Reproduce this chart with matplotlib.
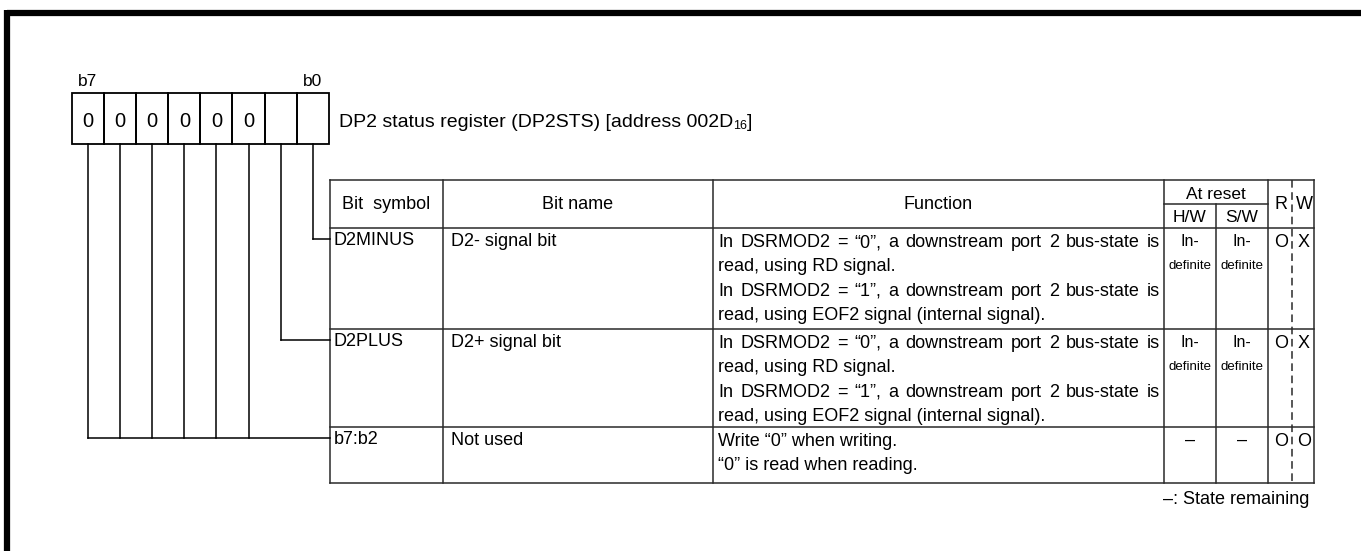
import matplotlib
matplotlib.use("Agg")
import matplotlib.pyplot as plt

plt.rcParams['font.family'] = ['Liberation Sans', 'DejaVu Sans']

# ---- data ----
reg_title = "DP2 status register (DP2STS) [address 002D"
reg_title_sub = "16"
reg_bits = ["0", "0", "0", "0", "0", "0", "", ""]   # b7 .. b0
bit_labels = ["b7", "b0"]

headers = ["Bit  symbol", "Bit name", "Function", "At reset", "H/W", "S/W", "R", "W"]
symbols = ["D2MINUS", "D2PLUS", "b7:b2"]
bit_names = ["D2- signal bit", "D2+ signal bit", "Not used"]
functions = [
    ["In DSRMOD2 = “0”, a downstream port 2 bus-state is", "read, using RD signal.",
     "In DSRMOD2 = “1”, a downstream port 2 bus-state is", "read, using EOF2 signal (internal signal)."],
    ["In DSRMOD2 = “0”, a downstream port 2 bus-state is", "read, using RD signal.",
     "In DSRMOD2 = “1”, a downstream port 2 bus-state is", "read, using EOF2 signal (internal signal)."],
    ["Write “0” when writing.", "“0” is read when reading."],
]
justified = [[True, False, True, False], [True, False, True, False], [False, False]]
hw_reset = [["In-", "definite"], ["In-", "definite"], ["–"]]
sw_reset = [["In-", "definite"], ["In-", "definite"], ["–"]]
read_attr = ["O", "O", "O"]
write_attr = ["X", "X", "O"]
footnote = "–: State remaining"

# bit positions (0 = b0) each row connects to
row_bits = [[0], [1], [2, 3, 4, 5, 6, 7]]

# ---- layout (pixels) ----
W, H = 1361, 551
fig = plt.figure(figsize=(W / 100, H / 100), dpi=100)
ax = fig.add_axes([0, 0, 1, 1])
ax.set_xlim(0, W)
ax.set_ylim(H, 0)
ax.axis('off')
renderer = fig.canvas.get_renderer()

FS = 13
LC = '#2a2a2a'
LW = 1.1

# outer thick frame (top and left only)
ax.plot([7.5, W], [12.5, 12.5], color='black', lw=4.5, solid_capstyle='butt')
ax.plot([7.5, 7.5], [10, H], color='black', lw=4.5, solid_capstyle='butt')

# register boxes
rx0, rcw, ry0, ry1 = 72, 32.1, 93, 144
for i, v in enumerate(reg_bits):
    x = rx0 + i * rcw
    ax.add_patch(plt.Rectangle((x, ry0), rcw, ry1 - ry0, fill=False, ec='black', lw=1.3))
    if v:
        ax.text(x + rcw / 2, 127, v, ha='center', va='baseline', fontsize=14.5)
ax.text(rx0 + rcw / 2 - 1, 86, bit_labels[0], ha='center', va='baseline', fontsize=12.5)
ax.text(rx0 + 7.5 * rcw, 86, bit_labels[1], ha='center', va='baseline', fontsize=12.5)

t = ax.text(339, 127, reg_title, ha='left', va='baseline', fontsize=14)
bb = t.get_window_extent(renderer)
t2 = ax.text(bb.x1, 129, reg_title_sub, ha='left', va='baseline', fontsize=9)
bb2 = t2.get_window_extent(renderer)
ax.text(bb2.x1, 127, "]", ha='left', va='baseline', fontsize=14)

# table geometry
cols = [330, 443, 713, 1164, 1216, 1268, 1292, 1314]
top, sub, hdr = 180, 204, 228
row_edges = [228, 329, 427, 483]
line_h = 24.3

# table lines
for y in [top] + row_edges:
    ax.plot([cols[0], cols[-1]], [y, y], color=LC, lw=LW)
ax.plot([cols[3], cols[5]], [sub, sub], color=LC, lw=LW)
for x in [cols[0], cols[1], cols[2], cols[3], cols[5], cols[7]]:
    ax.plot([x, x], [top, row_edges[-1]], color=LC, lw=LW)
ax.plot([cols[4], cols[4]], [sub, row_edges[-1]], color=LC, lw=LW)
ax.plot([cols[6], cols[6]], [top, row_edges[-1]], color=LC, lw=LW, ls=(0, (5, 3)))

# headers
ax.text((cols[0] + cols[1]) / 2, 209, headers[0], ha='center', va='baseline', fontsize=FS)
ax.text((cols[1] + cols[2]) / 2, 209, headers[1], ha='center', va='baseline', fontsize=FS)
ax.text((cols[2] + cols[3]) / 2, 209, headers[2], ha='center', va='baseline', fontsize=FS)
ax.text((cols[3] + cols[5]) / 2, 199, headers[3], ha='center', va='baseline', fontsize=12.5)
ax.text((cols[3] + cols[4]) / 2, 222, headers[4], ha='center', va='baseline', fontsize=12.5)
ax.text((cols[4] + cols[5]) / 2, 222, headers[5], ha='center', va='baseline', fontsize=12.5)
ax.text((cols[5] + cols[6]) / 2 + 1, 209, headers[6], ha='center', va='baseline', fontsize=FS)
ax.text((cols[6] + cols[7]) / 2 + 1, 209, headers[7], ha='center', va='baseline', fontsize=FS)


def justify(line, x0, x1, y):
    words = line.split(' ')
    widths = []
    for w in words:
        tt = ax.text(0, y, w, fontsize=FS)
        widths.append(tt.get_window_extent(renderer).width)
        tt.remove()
    gap = (x1 - x0 - sum(widths)) / (len(words) - 1)
    x = x0
    for w, wd in zip(words, widths):
        ax.text(x, y, w, ha='left', va='baseline', fontsize=FS)
        x += wd + gap


# rows
for r in range(len(symbols)):
    y0 = row_edges[r]
    base = y0 + 19
    ax.text(cols[0] + 4, base - 2, symbols[r], ha='left', va='baseline', fontsize=FS)
    ax.text(cols[1] + 8, base - 1, bit_names[r], ha='left', va='baseline', fontsize=FS)
    for k, line in enumerate(functions[r]):
        yy = base + k * line_h
        if justified[r][k]:
            justify(line, cols[2] + 5, cols[3] - 4, yy)
        else:
            ax.text(cols[2] + 5, yy, line, ha='left', va='baseline', fontsize=FS)
    for c, vals in [(3, hw_reset[r]), (4, sw_reset[r])]:
        cx = (cols[c] + cols[c + 1]) / 2
        if len(vals) == 2:
            ax.text(cx, base - 1, vals[0], ha='center', va='baseline', fontsize=11.5)
            ax.text(cx, base + line_h - 2, vals[1], ha='center', va='baseline', fontsize=9.5)
        else:
            ax.text(cx, base - 1, vals[0], ha='center', va='baseline', fontsize=FS)
    ax.text((cols[5] + cols[6]) / 2 + 1, base, read_attr[r], ha='center', va='baseline', fontsize=FS)
    ax.text((cols[6] + cols[7]) / 2 + 1, base, write_attr[r], ha='center', va='baseline', fontsize=FS)

    # connectors from register bits to table rows
    cy = y0 + 11
    bx = [rx0 + (7 - b + 0.5) * rcw for b in row_bits[r]]
    for x in bx:
        ax.plot([x, x], [ry1, cy], color='black', lw=LW)
    ax.plot([min(bx), cols[0]], [cy, cy], color='black', lw=LW)

ax.text(1309, 504, footnote, ha='right', va='baseline', fontsize=FS)

fig.savefig("out.png", dpi=100)
